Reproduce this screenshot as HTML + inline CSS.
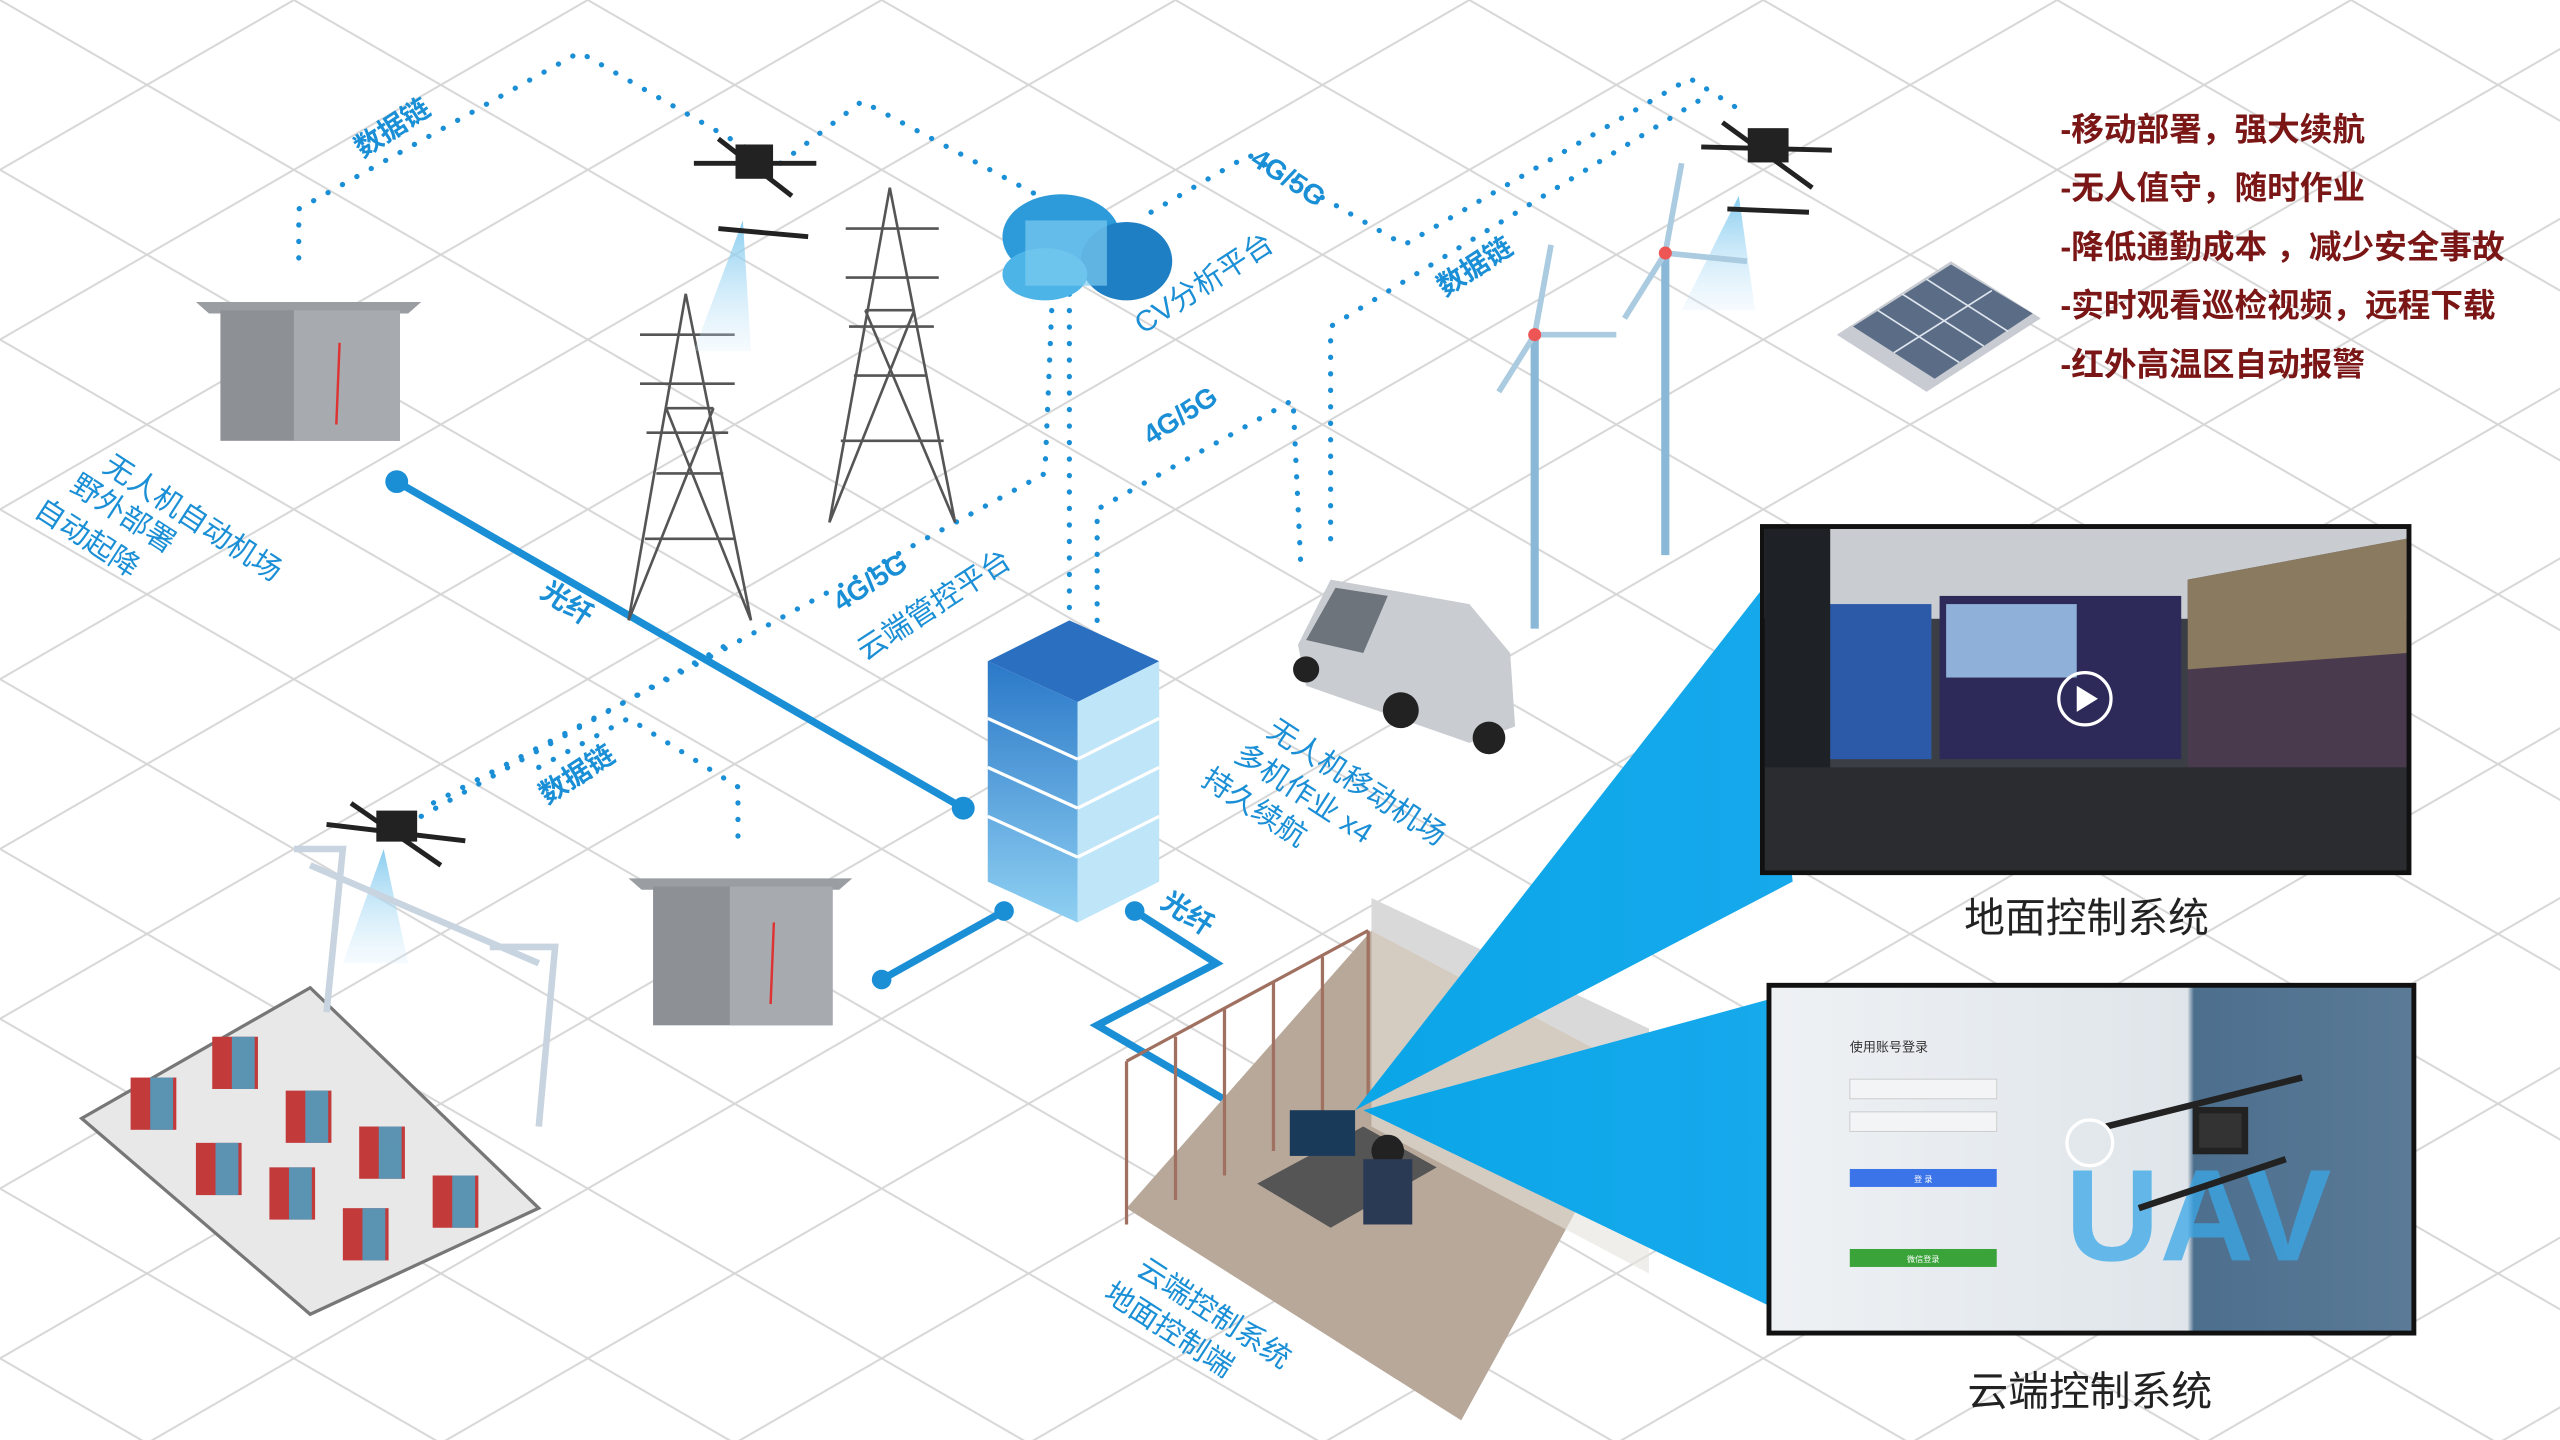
<!DOCTYPE html>
<html><head><meta charset="utf-8"><style>
html,body{margin:0;padding:0;background:#fff;width:2560px;height:1440px;overflow:hidden}
svg{display:block}
text{font-family:"Liberation Sans","Noto Sans CJK SC",sans-serif}
</style></head><body>
<svg width="2560" height="1440" viewBox="0 0 1568 882" xmlns="http://www.w3.org/2000/svg">
<defs>
<pattern id="grid" width="180" height="104" patternUnits="userSpaceOnUse">
<path d="M0 0 L180 104 M180 0 L0 104 M-90 52 L0 104 M90 -52 L180 0 M0 0 L-90 52 M180 104 L270 52" stroke="#d6d6d6" stroke-width="1.2" fill="none"/>
</pattern>
<linearGradient id="beam" x1="0" y1="0" x2="1" y2="0"><stop offset="0" stop-color="#0aa6e8"/><stop offset="1" stop-color="#16a9ec"/></linearGradient>
<linearGradient id="srv" x1="0" y1="0" x2="0" y2="1"><stop offset="0" stop-color="#2a78c8"/><stop offset="1" stop-color="#8fd0f2"/></linearGradient>
<linearGradient id="light" x1="0" y1="0" x2="0" y2="1"><stop offset="0" stop-color="#7cc8ee" stop-opacity=".9"/><stop offset="1" stop-color="#cfeafa" stop-opacity=".2"/></linearGradient>
<linearGradient id="uav" x1="0" y1="0" x2="1" y2="0"><stop offset="0" stop-color="#eef1f4"/><stop offset=".65" stop-color="#dfe5ea"/><stop offset=".66" stop-color="#4d6f8e"/><stop offset="1" stop-color="#5a7a96"/></linearGradient>
</defs>
<rect width="1568" height="882" fill="url(#grid)"/>

<g fill="none" stroke="#1a8fd6" stroke-width="3.2" stroke-dasharray="0.1 10" stroke-linecap="round">
<path d="M183 158 L183 128 L355 32 L470 98"/>
<path d="M478 100 L528 62 L640 122"/>
<path d="M705 130 L765 95 L860 150 L1035 48 L1070 70"/>
<path d="M815 330 L815 200 L1040 62"/>
<path d="M655 170 L655 380"/>
<path d="M672 380 L672 312 L792 245 L797 352"/>
<path d="M645 170 L640 290 L430 405 L265 492"/>
<path d="M258 500 L445 395"/>
<path d="M330 470 L385 440 L452 482 L452 522"/>
</g>

<g stroke="#1a8fd6" stroke-width="4.5" fill="none" stroke-linecap="round">
<path d="M243 295 L590 495"/>
<path d="M540 600 L615 558"/>
<path d="M695 558 L745 590 L672 628 L775 688"/>
</g>
<g fill="#1a8fd6"><circle cx="243" cy="295" r="7"/><circle cx="590" cy="495" r="7"/><circle cx="540" cy="600" r="6"/><circle cx="615" cy="558" r="6"/><circle cx="695" cy="558" r="6"/></g>

<g>
<polygon points="120,185 258,185 250,192 128,192" fill="#9a9ea3"/>
<rect x="135" y="190" width="110" height="80" fill="#8d9196"/>
<rect x="180" y="190" width="65" height="80" fill="#a7abb0"/>
<line x1="208" y1="210" x2="206" y2="260" stroke="#d33" stroke-width="1.5"/>
<polygon points="385,538 522,538 514,545 393,545" fill="#9a9ea3"/>
<rect x="400" y="543" width="110" height="85" fill="#8d9196"/>
<rect x="447" y="543" width="63" height="85" fill="#a7abb0"/>
<line x1="474" y1="565" x2="472" y2="615" stroke="#d33" stroke-width="1.5"/>
</g>

<g stroke="#555" stroke-width="1.6" fill="none">
<path d="M385 380 L420 180 L460 380 M395 330 L450 330 M402 290 L443 290 M408 250 L437 250 M385 380 L437 250 M460 380 L408 250"/>
<path d="M392 205 L450 205 M392 235 L450 235 M396 265 L446 265"/>
<path d="M508 320 L545 115 L585 320 M515 270 L578 270 M523 230 L568 230 M530 190 L560 190 M508 320 L560 190 M585 320 L530 190"/>
<path d="M518 140 L575 140 M518 170 L575 170 M520 200 L572 200"/>
</g>

<polygon points="455,135 425,215 460,215" fill="url(#light)"/>
<polygon points="1065,120 1030,190 1075,190" fill="url(#light)"/>
<polygon points="235,520 210,590 250,590" fill="url(#light)"/>
<g fill="#222" stroke="#222" stroke-width="3">
<line x1="425" y1="100" x2="500" y2="100"/><line x1="440" y1="85" x2="485" y2="120"/><rect x="452" y="90" width="20" height="18"/><line x1="440" y1="140" x2="495" y2="145"/>
<line x1="1042" y1="90" x2="1122" y2="92"/><line x1="1055" y1="75" x2="1110" y2="115"/><rect x="1072" y="80" width="22" height="18"/><line x1="1058" y1="128" x2="1108" y2="130"/>
<line x1="200" y1="505" x2="285" y2="515"/><line x1="215" y1="492" x2="270" y2="530"/><rect x="232" y="498" width="22" height="16"/>
</g>

<g>
<ellipse cx="650" cy="145" rx="36" ry="26" fill="#2d9ad9"/>
<ellipse cx="690" cy="160" rx="28" ry="24" fill="#1f7fc4"/>
<ellipse cx="640" cy="168" rx="26" ry="16" fill="#4db4e8"/>
<rect x="628" y="135" width="50" height="40" fill="#7bcaf0" opacity=".7"/>
</g>

<g>
<polygon points="605,405 655,380 710,405 660,430" fill="#2a6fc0"/>
<polygon points="605,405 660,430 660,565 605,540" fill="url(#srv)"/>
<polygon points="660,430 710,405 710,540 660,565" fill="#bfe5f8"/>
<g stroke="#ffffff" stroke-width="2"><line x1="605" y1="440" x2="660" y2="465"/><line x1="605" y1="470" x2="660" y2="495"/><line x1="605" y1="500" x2="660" y2="525"/><line x1="660" y1="465" x2="710" y2="440"/><line x1="660" y1="495" x2="710" y2="470"/><line x1="660" y1="525" x2="710" y2="500"/></g>
</g>

<g stroke="#8ab8d6" stroke-width="5" fill="none">
<line x1="940" y1="205" x2="940" y2="385"/><line x1="1020" y1="155" x2="1020" y2="340"/>
</g>
<g stroke="#aacbe0" stroke-width="3.5" fill="none">
<path d="M940 205 L950 150 M940 205 L918 240 M940 205 L990 205"/>
<path d="M1020 155 L1030 100 M1020 155 L995 195 M1020 155 L1070 160"/>
</g>
<circle cx="940" cy="205" r="4" fill="#e55"/><circle cx="1020" cy="155" r="4" fill="#e55"/>

<g>
<path d="M795 395 L815 355 L900 370 L925 400 L928 445 L900 455 L800 420 Z" fill="#c9ccd1"/>
<path d="M800 392 L818 360 L850 365 L835 400 Z" fill="#6d747c"/>
<circle cx="858" cy="435" r="11" fill="#222"/><circle cx="912" cy="452" r="10" fill="#222"/><circle cx="800" cy="410" r="8" fill="#222"/>
</g>

<g>
<polygon points="1125,205 1195,160 1250,195 1180,240" fill="#c8ccd2"/>
<polygon points="1135,200 1195,162 1245,192 1185,232" fill="#5b6d86"/>
<g stroke="#dfe6ef" stroke-width="1"><line x1="1150" y1="190" x2="1200" y2="222"/><line x1="1165" y1="180" x2="1215" y2="212"/><line x1="1180" y1="171" x2="1230" y2="203"/><line x1="1160" y1="216" x2="1220" y2="178"/></g>
</g>

<g>
<polygon points="50,685 190,605 330,740 190,805" fill="#e8e8e8" stroke="#777" stroke-width="2"/>
<g fill="#c23a3a">
<rect x="80" y="660" width="28" height="32"/><rect x="130" y="635" width="28" height="32"/><rect x="175" y="668" width="28" height="32"/><rect x="220" y="690" width="28" height="32"/>
<rect x="120" y="700" width="28" height="32"/><rect x="165" y="715" width="28" height="32"/><rect x="210" y="740" width="28" height="32"/><rect x="265" y="720" width="28" height="32"/>
</g>
<g fill="#4aa3c9" opacity=".85">
<rect x="92" y="660" width="14" height="32"/><rect x="142" y="635" width="14" height="32"/><rect x="187" y="668" width="14" height="32"/><rect x="232" y="690" width="14" height="32"/>
<rect x="132" y="700" width="14" height="32"/><rect x="177" y="715" width="14" height="32"/><rect x="222" y="740" width="14" height="32"/><rect x="277" y="720" width="14" height="32"/>
</g>
<g stroke="#c8d4e0" stroke-width="4" fill="none"><path d="M180 520 L210 520 L200 620 M300 580 L340 580 L330 690 M190 530 L330 590"/></g>
</g>

<g>
<polygon points="690,740 840,570 1010,660 895,870" fill="#b8a89a"/>
<polygon points="840,570 1010,660 1010,630 840,550" fill="#d9d9d9"/>
<polygon points="840,570 840,690 1010,780 1010,660" fill="#e6e2dc" opacity=".6"/>
<g stroke="#a07060" stroke-width="2"><line x1="690" y1="650" x2="690" y2="750"/><line x1="720" y1="635" x2="720" y2="735"/><line x1="750" y1="618" x2="750" y2="720"/><line x1="780" y1="602" x2="780" y2="705"/><line x1="810" y1="586" x2="810" y2="690"/><line x1="838" y1="570" x2="838" y2="675"/><line x1="690" y1="650" x2="838" y2="570"/></g>
<polygon points="770,725 835,690 880,715 815,752" fill="#555"/>
<rect x="790" y="680" width="40" height="28" fill="#1a3a5a"/>
<circle cx="850" cy="705" r="10" fill="#222"/><rect x="835" y="710" width="30" height="40" fill="#2a3a55"/>
</g>

<polygon points="830,680 1080,360 1098,540" fill="url(#beam)"/>
<polygon points="835,680 1084,612 1084,800" fill="url(#beam)"/>

<rect x="1078" y="321" width="399" height="215" fill="#111"/>
<rect x="1081" y="324" width="393" height="209" fill="#3b3e44"/>
<rect x="1081" y="324" width="393" height="55" fill="#c9ccd0"/>
<rect x="1105" y="370" width="78" height="95" fill="#2c5aa8"/>
<rect x="1188" y="365" width="148" height="100" fill="#2d2a5a"/>
<rect x="1192" y="370" width="80" height="45" fill="#8fb0d8"/>
<circle cx="1277" cy="428" r="16" fill="none" stroke="#fff" stroke-width="2"/>
<polygon points="1272,420 1285,428 1272,436" fill="#fff"/>
<polygon points="1340,355 1474,330 1474,505 1340,470" fill="#4a3a4e"/>
<polygon points="1340,355 1474,330 1474,400 1340,410" fill="#8a7a60"/>
<rect x="1081" y="324" width="40" height="209" fill="#1e2226"/>
<rect x="1081" y="470" width="393" height="63" fill="#2a2c30"/>
<text x="1278" y="571" font-size="25" text-anchor="middle" fill="#222">地面控制系统</text>

<rect x="1082" y="602" width="398" height="216" fill="#111"/>
<rect x="1085" y="605" width="392" height="210" fill="url(#uav)"/>
<text x="1133" y="644" font-size="8" fill="#333">使用账号登录</text>
<rect x="1133" y="661" width="90" height="12" fill="#f2f4f6" stroke="#ccc" stroke-width=".6"/>
<rect x="1133" y="681" width="90" height="12" fill="#f2f4f6" stroke="#ccc" stroke-width=".6"/>
<rect x="1133" y="716" width="90" height="11" fill="#3b73e8"/>
<rect x="1133" y="765" width="90" height="11" fill="#3aa33a"/>
<text x="1178" y="724" font-size="5" fill="#fff" text-anchor="middle">登 录</text>
<text x="1178" y="773" font-size="5" fill="#fff" text-anchor="middle">微信登录</text>
<text x="1265" y="772" font-size="80" font-weight="bold" fill="#3aa8e8" opacity=".75">UAV</text>
<g stroke="#222" stroke-width="4"><line x1="1290" y1="690" x2="1410" y2="660"/><line x1="1310" y1="740" x2="1400" y2="710"/><rect x="1345" y="680" width="30" height="25" fill="#333"/></g>
<circle cx="1280" cy="700" r="14" fill="none" stroke="#fff" stroke-width="2"/>
<text x="1280" y="861" font-size="25" text-anchor="middle" fill="#222">云端控制系统</text>

<g font-size="20" font-weight="bold" fill="#7a1616">
<text x="1262" y="86">-移动部署，强大续航</text>
<text x="1262" y="122">-无人值守，随时作业</text>
<text x="1262" y="158">-降低通勤成本 ，减少安全事故</text>
<text x="1262" y="194">-实时观看巡检视频，远程下载</text>
<text x="1262" y="230">-红外高温区自动报警</text>
</g>

<g fill="#1a8fd6" font-weight="bold" font-size="17">
<text transform="translate(222,97) rotate(-33)">数据链</text>
<text transform="translate(765,100) rotate(33)">4G/5G</text>
<text transform="translate(885,182) rotate(-33)">数据链</text>
<text transform="translate(705,273) rotate(-33)">4G/5G</text>
<text transform="translate(515,375) rotate(-33)">4G/5G</text>
<text transform="translate(330,365) rotate(33)">光纤</text>
<text transform="translate(335,493) rotate(-33)">数据链</text>
<text transform="translate(710,555) rotate(33)">光纤</text>
</g>
<g fill="#1a8fd6" font-size="18">
<text transform="translate(700,205) rotate(-33)">CV分析平台</text>
<text transform="translate(530,405) rotate(-33)">云端管控平台</text>
<text transform="translate(62,288) rotate(33)">无人机自动机场</text>
<text transform="translate(42,300) rotate(33)">野外部署</text>
<text transform="translate(20,315) rotate(33)">自动起降</text>
<text transform="translate(775,450) rotate(33)">无人机移动机场</text>
<text transform="translate(755,465) rotate(33)">多机作业 x4</text>
<text transform="translate(735,480) rotate(33)">持久续航</text>
<text transform="translate(695,780) rotate(33)">云端控制系统</text>
<text transform="translate(675,795) rotate(33)">地面控制端</text>
</g>
</svg>
</body></html>
